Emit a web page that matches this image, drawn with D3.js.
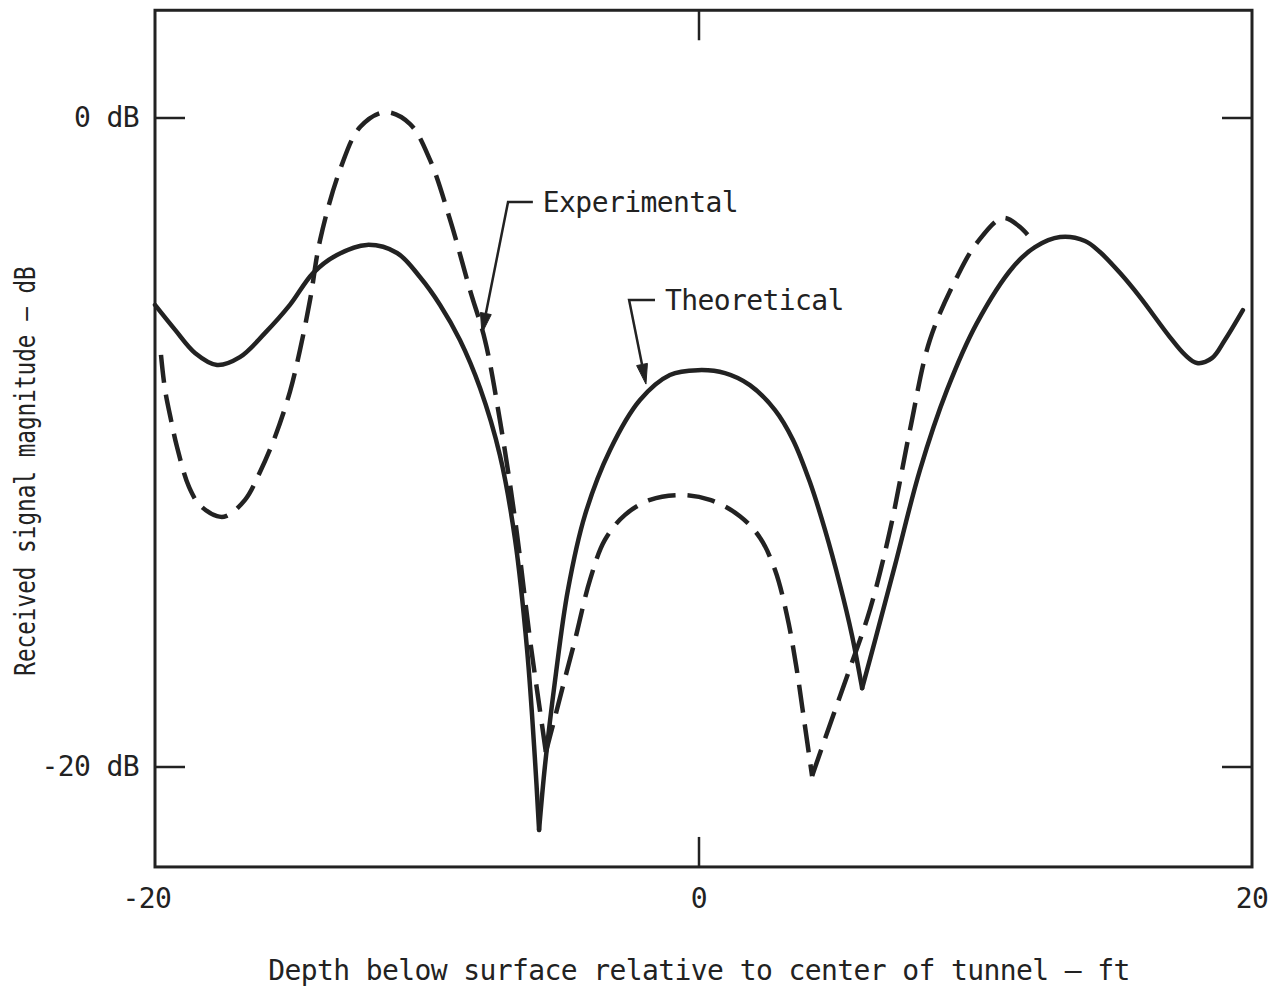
<!DOCTYPE html>
<html>
<head>
<meta charset="utf-8">
<script src="https://cdn.jsdelivr.net/npm/d3@7"></script>
<style>
  html, body { margin: 0; padding: 0; background: #fff; }
  svg { display: block; }
  text { font-family: "DejaVu Sans Mono", "Liberation Mono", monospace; fill: #222; }
</style>
</head>
<body>
<svg id="chart" width="1280" height="989"></svg>
<script>
// Depth positions (ft) and received signal magnitude (dB), theoretical curve
const theoDepth = [-20, -19.26, -18.53, -17.72, -16.88, -15.96, -15.04, -14.19, -13.31, -12.21,
  -11.1, -10.26, -9.52, -8.79, -8.05, -7.32, -6.76, -6.32, -6.03, -5.88, -5.66, -5.29, -4.82, -4.19,
  -3.27, -2.17, -1.07, -0.04, 0.94, 1.84, 2.75, 3.4, 4.01, 4.56, 5.1, 5.53, 5.9, 6.37, 7.09, 7.99,
  8.97, 10.05, 11.36, 12.15, 13.06, 13.96, 14.5, 15.23, 15.95, 17.03, 17.58, 18.01, 18.55, 19.02,
  19.67];
const theoDb = [-5.76, -6.53, -7.24, -7.61, -7.37, -6.63, -5.76, -4.78, -4.22, -3.91,
  -4.16, -4.9, -5.76, -6.84, -8.32, -10.39, -13.0, -16.39, -19.78, -21.94, -19.94, -17.32, -14.55,
  -12.23, -10.23, -8.69, -7.92, -7.77, -7.86, -8.23, -9.0, -9.92, -11.22, -12.7, -14.39, -15.93,
  -17.57, -16.09, -13.78, -10.85, -8.38, -6.32, -4.59, -3.98, -3.67, -3.79, -4.13, -4.78, -5.52,
  -6.75, -7.3, -7.55, -7.4, -6.84, -5.92];
const theoCusps = [-5.88, 5.9];

// Measured (experimental) curve
const expDepth = [-19.78, -19.63, -19.41, -19.19, -18.75, -18.35, -17.72, -17.39, -16.69, -16.14,
  -15.59, -15.04, -14.67, -14.3, -13.93, -13.2, -12.46, -11.54, -10.63, -9.89, -9.15, -8.42, -7.87,
  -7.32, -6.76, -6.21, -5.85, -5.63, -5.37, -5.04, -4.56, -4.01, -3.46, -2.72, -1.8, -0.7, 0.4,
  1.48, 2.21, 2.75, 3.18, 3.51, 3.8, 4.09, 4.63, 5.46, 6.18, 6.91, 7.63, 8.35, 9.33, 10.05, 10.99,
  11.61, 12.04];
const expDb = [-7.3, -8.38, -9.31, -10.14, -11.37, -11.93, -12.27, -12.27, -11.77, -10.91,
  -9.83, -8.44, -7.15, -5.61, -3.76, -1.6, -0.28, 0.18, -0.18, -1.29, -3.14, -5.3, -6.84,
  -9.31, -12.39, -16.09, -18.24, -19.54, -18.71, -17.63, -16.09, -14.24, -13.0, -12.23, -11.77,
  -11.62, -11.77, -12.27, -12.94, -13.93, -15.32, -16.86, -18.55, -20.28, -18.95, -16.95, -15.16,
  -12.7, -9.61, -6.84, -4.9, -3.85, -3.08, -3.36, -3.76];
const expCusps = [-5.63, 4.09];

// Axis ticks and labels
const xTickValues = [-20, 0, 20];
const xTickLabels = ["-20", "0", "20"];
const yTickValues = [0, -20];
const yTickLabels = ["0 dB", "-20 dB"];
const xTitle = "Depth below surface relative to center of tunnel \u2014 ft";
const yTitle = "Received signal magnitude \u2014 dB";

// Curve annotations: text position, leader elbow x, arrow tip (data units)
const annotations = [
  { text: "Experimental", at: [-5.74, -2.59], elbowX: -7.02, tip: [-7.98, -6.63] },
  { text: "Theoretical",  at: [-1.25, -5.61], elbowX: -2.57, tip: [-1.95, -8.2] }
];

const INK = "#222";
const svg = d3.select("#chart");

const x = d3.scaleLinear().domain([-20, 0, 20]).range([155, 699, 1252]);
const y = d3.scaleLinear().domain([0, -20]).range([118, 767]);
const yTop = 3.32, yBottom = -23.08;

// Plot frame
svg.append("rect")
  .attr("x", x(-20)).attr("y", y(yTop))
  .attr("width", x(20) - x(-20)).attr("height", y(yBottom) - y(yTop))
  .attr("fill", "none").attr("stroke", INK).attr("stroke-width", 3);

// Inward ticks on all four sides
const tickLen = 30;
yTickValues.forEach(v => {
  svg.append("line").attr("x1", x(-20)).attr("x2", x(-20) + tickLen)
    .attr("y1", y(v)).attr("y2", y(v)).attr("stroke", INK).attr("stroke-width", 2.5);
  svg.append("line").attr("x1", x(20)).attr("x2", x(20) - tickLen)
    .attr("y1", y(v)).attr("y2", y(v)).attr("stroke", INK).attr("stroke-width", 2.5);
});
xTickValues.filter(v => v > -20 && v < 20).forEach(v => {
  svg.append("line").attr("x1", x(v)).attr("x2", x(v))
    .attr("y1", y(yTop)).attr("y2", y(yTop) + tickLen).attr("stroke", INK).attr("stroke-width", 2.5);
  svg.append("line").attr("x1", x(v)).attr("x2", x(v))
    .attr("y1", y(yBottom)).attr("y2", y(yBottom) - tickLen).attr("stroke", INK).attr("stroke-width", 2.5);
});

// Typewriter-style text: slightly larger glyphs, tightened spacing
const fs = 28;
const ls = -0.6;
const charW = fs * 0.602 + ls;
function label(sel) {
  return sel.attr("font-size", fs).attr("letter-spacing", ls + "px");
}

xTickValues.forEach((v, i) => {
  const lbl = xTickLabels[i];
  const shift = lbl.startsWith("-") ? -charW / 2 : 0;
  label(svg.append("text")).attr("x", x(v) + shift).attr("y", 908)
    .attr("text-anchor", "middle").text(lbl);
});
yTickValues.forEach((v, i) => {
  label(svg.append("text")).attr("x", 139).attr("y", y(v) + 9)
    .attr("text-anchor", "end").text(yTickLabels[i]);
});

// Axis titles
label(svg.append("text")).attr("x", 699).attr("y", 980)
  .attr("text-anchor", "middle").text(xTitle);
svg.append("text").attr("transform", "translate(35,471) rotate(-90) scale(0.81,1)")
  .attr("text-anchor", "middle").attr("font-size", fs).text(yTitle);

// Split a series at its nulls so each lobe ends in a sharp point
function lobes(xs, ys, cusps) {
  const segs = [];
  let cur = [];
  xs.forEach((d, i) => {
    cur.push([d, ys[i]]);
    if (cusps.includes(d)) { segs.push(cur); cur = [[d, ys[i]]]; }
  });
  if (cur.length > 1) segs.push(cur);
  return segs;
}

const line = d3.line()
  .x(d => x(d[0])).y(d => y(d[1]))
  .curve(d3.curveCatmullRom.alpha(0.5));

svg.append("g").selectAll("path")
  .data(lobes(theoDepth, theoDb, theoCusps))
  .join("path")
  .attr("d", line)
  .attr("fill", "none").attr("stroke", INK).attr("stroke-width", 4.5)
  .attr("stroke-linejoin", "round").attr("stroke-linecap", "round");

svg.append("g").selectAll("path")
  .data(lobes(expDepth, expDb, expCusps))
  .join("path")
  .attr("d", line)
  .attr("fill", "none").attr("stroke", INK).attr("stroke-width", 4.5)
  .attr("stroke-dasharray", "28,12")
  .attr("stroke-linejoin", "round").attr("stroke-linecap", "butt");

// Labels with bent leader arrows
annotations.forEach(a => {
  const tx = x(a.at[0]), ty = y(a.at[1]);
  label(svg.append("text")).attr("x", tx).attr("y", ty + 10).text(a.text);
  const ex = x(a.elbowX);
  const px = x(a.tip[0]), py = y(a.tip[1]);
  const ang = Math.atan2(py - ty, px - ex);
  const headL = 20, headW = 5.5;
  const bx = px - headL * Math.cos(ang), by = py - headL * Math.sin(ang);
  svg.append("path")
    .attr("d", d3.line()([[tx - 10, ty], [ex, ty], [bx, by]]))
    .attr("fill", "none").attr("stroke", INK).attr("stroke-width", 2.5);
  const nx = -Math.sin(ang), ny = Math.cos(ang);
  svg.append("path")
    .attr("d", d3.line()([[px, py], [bx + nx * headW, by + ny * headW], [bx - nx * headW, by - ny * headW]]) + "Z")
    .attr("fill", INK).attr("stroke", INK).attr("stroke-width", 1);
});
</script>
</body>
</html>
